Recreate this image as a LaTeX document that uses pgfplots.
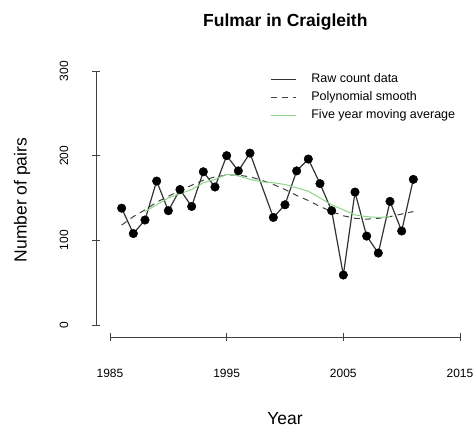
\documentclass[border=0pt]{standalone}
\usepackage{pgfplots}
\pgfplotsset{compat=1.18}
\usepackage{fontspec}
\setmainfont{Liberation Sans}

\definecolor{magreen}{RGB}{140,212,140}

\pgfplotsset{
    raxis/.style={
        scale only axis, clip=false,
        axis line style={black!75, line width=0.9pt},
        every tick/.style={black!75, line width=0.9pt},
        tick align=outside,
        major tick length=8pt,
        ticklabel style={font=\fontsize{12}{14}\selectfont, inner sep=0pt},
    },
}

\begin{document}
\begin{tikzpicture}
\useasboundingbox (-110pt,-103pt) rectangle (365pt,325pt);

% R-style x axis, set below the plot region
\begin{axis}[raxis,
    at={(0pt,-12pt)}, anchor=south west,
    width=350pt, height=10pt,
    xmin=1985, xmax=2015, ymin=0, ymax=1,
    axis x line=bottom, axis y line=none,
    x axis line style={-},
    ytick=\empty,
    xtick={1985,1995,2005,2015},
    xticklabels={1985,1995,2005,2015},
    xticklabel style={anchor=center, yshift=-32pt},
]
\end{axis}

% R-style y axis, set left of the plot region
\begin{axis}[raxis,
    at={(-14pt,0pt)}, anchor=south west,
    width=10pt, height=254pt,
    xmin=0, xmax=1, ymin=0, ymax=300,
    axis y line=left, axis x line=none,
    y axis line style={-},
    xtick=\empty,
    ytick={0,100,200,300},
    yticklabels={0,100,200,300},
    yticklabel style={rotate=90, anchor=center, yshift=28pt},
]
\end{axis}

\begin{axis}[
    at={(0pt,0pt)}, anchor=south west,
    scale only axis,
    width=350pt, height=254pt,
    xmin=1985, xmax=2015,
    ymin=0, ymax=300,
    clip=false,
    axis lines=none,
    legend style={at={(0.457,0.99)}, anchor=north west, draw=none, fill=none,
                  font=\fontsize{12.5}{14}\selectfont,
                  inner sep=0pt, row sep=6pt,
                  nodes={inner sep=0pt, text height=9pt, text depth=3pt},
                  /tikz/every odd column/.append style={column sep=15pt}},
    legend cell align=left,
    legend image code/.code={
        \draw[#1] (0pt,0pt) -- (25pt,0pt);
    },
]

% raw counts
\addplot[black!80, line width=1.2pt] coordinates {
    (1986,138) (1987,108) (1988,124) (1989,170) (1990,135)
    (1991,160) (1992,140) (1993,181) (1994,163) (1995,200)
    (1996,182) (1997,203) (1999,127) (2000,142) (2001,182)
    (2002,196) (2003,167) (2004,135) (2005,59) (2006,157)
    (2007,105) (2008,85) (2009,146) (2010,111) (2011,172)
};
\addlegendentry{Raw count data}

% polynomial smooth
\addplot[black!75, line width=1pt, dash pattern=on 6pt off 5pt] coordinates {
    (1986,118) (1987,128) (1988,136) (1989,145) (1990,152)
    (1991,159) (1992,165) (1993,171) (1994,175) (1995,177)
    (1996,177) (1997,175) (1998,171) (1999,166) (2000,160)
    (2001,153) (2002,147) (2003,140) (2004,134) (2005,129)
    (2006,126) (2007,125) (2008,126) (2009,128) (2010,131)
    (2011,134)
};
\addlegendentry{Polynomial smooth}

% five year moving average
\addplot[magreen, line width=1pt] coordinates {
    (1988,134) (1989,142) (1990,150) (1991,155) (1992,160)
    (1993,168) (1994,172) (1995,178) (1996,176) (1997,172)
    (1998,169) (1999,168) (2000,166) (2001,162) (2002,158)
    (2003,150) (2004,142) (2005,136) (2006,130) (2007,128)
    (2008,127) (2009,128)
};
\addlegendentry{Five year moving average}

% points on top
\addplot[only marks, mark=*, mark size=4.3pt, black, forget plot] coordinates {
    (1986,138) (1987,108) (1988,124) (1989,170) (1990,135)
    (1991,160) (1992,140) (1993,181) (1994,163) (1995,200)
    (1996,182) (1997,203) (1999,127) (2000,142) (2001,182)
    (2002,196) (2003,167) (2004,135) (2005,59) (2006,157)
    (2007,105) (2008,85) (2009,146) (2010,111) (2011,172)
};

% title and axis labels
\node[font=\fontsize{17.5}{20}\selectfont\bfseries, inner sep=0pt]
    at ([yshift=49pt]rel axis cs:0.501,1) {Fulmar in Craigleith};
\node[font=\fontsize{17.5}{20}\selectfont, inner sep=0pt]
    at ([yshift=-94pt]rel axis cs:0.5,0) {Year};
\node[font=\fontsize{17.5}{20}\selectfont, inner sep=0pt, rotate=90]
    at ([xshift=-88pt]rel axis cs:0,0.492) {Number of pairs};

\end{axis}
\end{tikzpicture}
\end{document}
